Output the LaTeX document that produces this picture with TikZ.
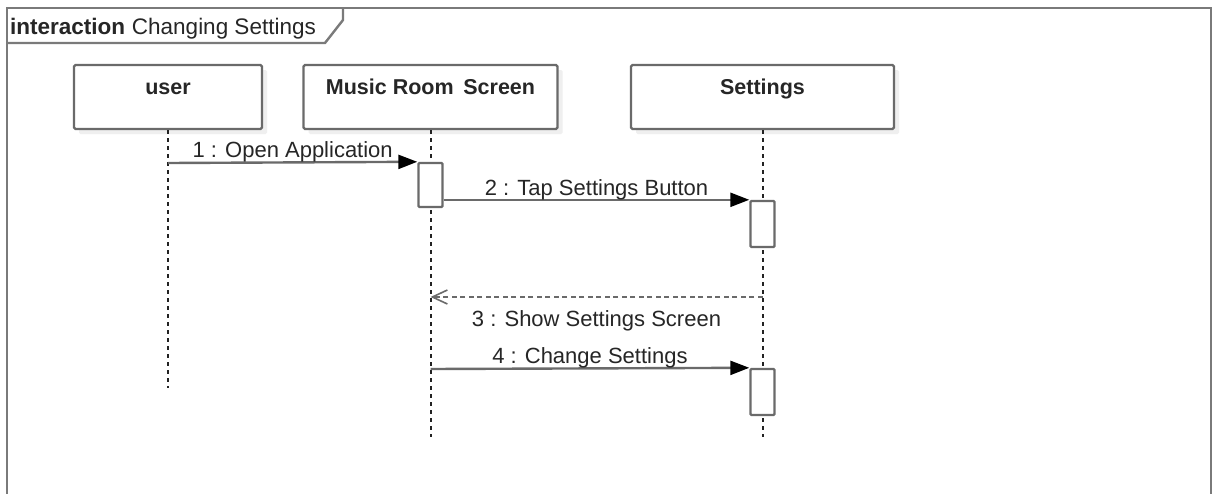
\documentclass[tikz,border=0pt]{standalone}
\usepackage{fontspec}
\setmainfont{Liberation Sans}
\usetikzlibrary{arrows.meta,shadows}
\definecolor{framegray}{HTML}{7A7A7A}
\definecolor{linegray}{HTML}{6A6A6A}
\definecolor{lifegray}{HTML}{222222}
\definecolor{txt}{HTML}{262626}
\definecolor{shadowgray}{HTML}{EFEFEF}
\tikzset{
  headbox/.style={draw=linegray, line width=2.4pt, fill=white, rounded corners=1.5pt,
    inner xsep=0pt, inner ysep=0pt, text height=29pt, text depth=35pt,
    font=\bfseries\fontsize{21.5}{24}\selectfont, text=txt,
    drop shadow={shadow xshift=5pt, shadow yshift=-5pt, fill=shadowgray, opacity=1}},
  actbox/.style={draw=linegray, line width=2.4pt, fill=white, rounded corners=1pt,
    minimum width=24pt, inner sep=0pt},
  lifeline/.style={draw=lifegray, line width=2pt, dash pattern=on 4pt off 4pt},
  msg/.style={draw=linegray, line width=2.4pt,
    -{Triangle[length=19pt,width=14pt,fill=black,color=black]}},
  reply/.style={draw=linegray, line width=2pt, dash pattern=on 5pt off 3.5pt,
    -{Straight Barb[length=15pt,width=14pt,line width=1.6pt,color=linegray]}},
  lbl/.style={font=\fontsize{22}{24}\selectfont, text=txt, inner sep=0pt, anchor=base},
}
\begin{document}
\begin{tikzpicture}[x=1pt,y=-1pt]
\useasboundingbox (0,0) rectangle (1212,493);
\clip (0,0) rectangle (1212,493);
\fill[white] (0,0) rectangle (1212,493);
% frame
\draw[framegray, line width=2.4pt] (7,510) -- (7,8) -- (1211,8) -- (1211,510);
\draw[framegray, line width=2.4pt] (7,43) -- (325,43) -- (343,20) -- (343,8);
\node[font=\fontsize{22.5}{24}\selectfont, text=txt, anchor=base west, inner sep=0pt] (title) at (10,34)
  {\textbf{interaction}\hspace{0.3em}Changing Settings};
% headers
\node[headbox, minimum width=188pt] (user) at (168,97) {user};
\node[headbox, minimum width=254pt] (mrs) at (430.5,97) {Music Room\hspace{0.45em}Screen};
\node[headbox, minimum width=263pt] (set) at (762.5,97) {Settings};
% lifelines
\coordinate (userEnd) at (168,388);
\coordinate (mrsEnd) at (430.5,437);
\coordinate (setEnd) at (762.5,437);
\draw[lifeline] (user.south) -- (userEnd);
\draw[lifeline] (mrs.south) -- (mrsEnd);
\draw[lifeline] (set.south) -- (setEnd);
% activations
\node[actbox, minimum height=44pt] (mrsA) at (430.5,185) {};
\node[actbox, minimum height=46pt] (setA1) at (762.5,224) {};
\node[actbox, minimum height=46pt] (setA2) at (762.5,392) {};
% message anchors on lifelines
\coordinate (u1) at (168,163);
\coordinate (s3) at (762.5,297);
\coordinate (m3) at (430.5,297);
\coordinate (m4) at (430.5,369);
% messages
\draw[msg] (u1) -- node[lbl, yshift=4.5pt] {1 : Open Application} (mrsA.north west);
\draw[msg] (mrsA.east |- setA1.north west) -- node[lbl, yshift=4.5pt] {2 : Tap Settings Button} (setA1.north west);
\draw[reply] (s3) -- node[lbl, yshift=-29pt] {3 : Show Settings Screen} (m3);
\draw[msg] (m4) -- node[lbl, yshift=4.5pt] {4 : Change Settings} (setA2.north west);
\end{tikzpicture}
\end{document}
